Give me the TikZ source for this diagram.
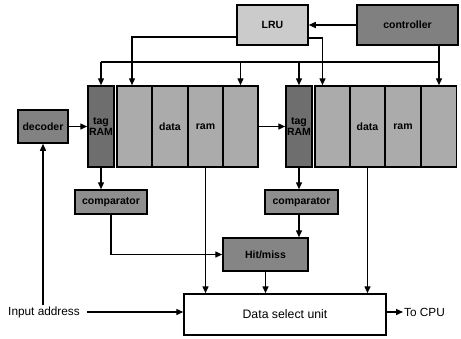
\documentclass[tikz,border=0pt]{standalone}
\usepackage{fontspec}
\setmainfont{Liberation Sans}
\usetikzlibrary{arrows.meta}
\definecolor{tagc}{HTML}{6E6E6E}
\definecolor{cellc}{HTML}{ABABAB}
\definecolor{lruc}{HTML}{CBCBCB}
\definecolor{ctrlc}{HTML}{808080}
\definecolor{cmpc}{HTML}{8E8E8E}
\definecolor{hitc}{HTML}{858585}
\definecolor{decc}{HTML}{828282}
\tikzset{
  box/.style={draw=black, line width=1.5pt, inner sep=0pt, align=center,
    font=\fontsize{10.5}{10.5}\selectfont\bfseries},
  cell/.style={box, fill=cellc, minimum width=35.25pt, minimum height=81pt},
  tagbox/.style={box, fill=tagc, minimum width=26pt, minimum height=81pt},
  plain/.style={font=\fontsize{11.8}{13}\selectfont, inner sep=1pt},
  arr/.style={line width=1.4pt, -{Triangle[length=7pt,width=6pt]}},
  ln/.style={line width=1.4pt}
}
\begin{document}
\begin{tikzpicture}[x=1pt,y=-1pt]
\useasboundingbox (0,0) rectangle (461,338);
% top boxes
\node[box, fill=lruc, minimum width=71pt, minimum height=40pt] (lru) at (272.5,25) {LRU};
\node[box, fill=ctrlc, minimum width=101pt, minimum height=40pt] (ctrl) at (407.5,25) {controller};
% decoder
\node[box, fill=decc, minimum width=50pt, minimum height=33pt] (dec) at (43,126.5) {decoder};
% set 1
\node[tagbox] (tag1) at (101,126.5) {tag\\RAM};
\node[cell] (a1) at (134.5,126.5) {};
\node[cell] (a2) at (170,126.5) {data};
\node[cell] (a3) at (205.5,126.5) {ram};
\node[cell] (a4) at (240.5,126.5) {};
% set 2
\node[tagbox] (tag2) at (299,126.5) {tag\\RAM};
\node[cell] (b1) at (332.5,126.5) {};
\node[cell] (b2) at (367.5,126.5) {data};
\node[cell] (b3) at (403,126.5) {ram};
\node[cell] (b4) at (439,126.5) {};
% comparators
\node[box, fill=cmpc, minimum width=72pt, minimum height=24pt] (cmp1) at (111,202) {comparator};
\node[box, fill=cmpc, minimum width=73pt, minimum height=24pt] (cmp2) at (301.5,202) {comparator};
\node[box, fill=hitc, minimum width=85pt, minimum height=33pt] (hit) at (265.5,254.5) {Hit/miss};
\node[draw=black, line width=1.5pt, fill=white, minimum width=202pt, minimum height=41pt, font=\fontsize{12.3}{13}\selectfont] (dsu) at (285,314.5) {Data select unit};
% texts
\node[plain] (inp) at (44,312) {Input address};
\node[plain, anchor=west] (cpu) at (403,312) {To CPU};
% coordinates
\coordinate (busL) at (101,62);
\coordinate (busR) at (439,62);
% connectors
\draw[arr] (ctrl.west) -- (lru.east);
\draw[arr] ([yshift=-12pt]lru.west) -| ([xshift=-2.5pt]a1.north);
\draw[arr] ([yshift=-13pt]lru.east) -| ([xshift=-10pt]b1.north);
\draw[arr] (ctrl.south -| b4.north) -- (b4.north);
\draw[ln] (busL) -- (busR);
\draw[arr] (busL) -- (tag1.north);
\draw[arr] (a4.north |- busL) -- (a4.north);
\draw[arr] (tag2.north |- busL) -- (tag2.north);
\draw[arr] (dec.east) -- (tag1.west);
\draw[arr] (a4.east) -- (tag2.west);
\draw[arr] (tag1.south) -- (tag1.south |- cmp1.north);
\draw[arr] (tag2.south) -- (tag2.south |- cmp2.north);
\draw[arr] (cmp1.south) |- (hit.west);
\draw[arr] (cmp2.south -| tag2.south) -- (hit.north -| tag2.south);
\draw[arr] (hit.south) -- (hit.south |- dsu.north);
\draw[arr] (a3.south) -- (a3.south |- dsu.north);
\draw[arr] (b2.south) -- (b2.south |- dsu.north);
\draw[arr] (inp.north -| dec.south) -- (dec.south);
\draw[arr] ([xshift=6pt]inp.east) -- (inp.east -| dsu.west);
\draw[arr] (dsu.east |- cpu.west) -- (cpu.west);
\end{tikzpicture}
\end{document}
